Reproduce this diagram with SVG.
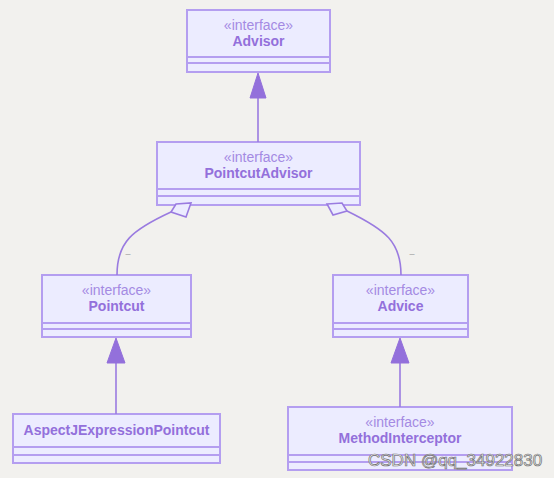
<svg xmlns="http://www.w3.org/2000/svg" width="554" height="478" viewBox="0 0 554 478">
<defs>
<style>
.box{fill:#ECECFF;stroke:#b49ef0;stroke-width:2}
.sep{stroke:#b49ef0;stroke-width:2;fill:none}
.st{font-family:"Liberation Sans",Arial,sans-serif;font-size:14px;fill:#a48ae3;text-anchor:middle}
.nm{font-family:"Liberation Sans",Arial,sans-serif;font-size:14px;font-weight:bold;fill:#9370DB;text-anchor:middle}
.edge{fill:none;stroke:#9a7be0;stroke-width:1.6}
.tri{fill:#9370DB;stroke:#9370DB;stroke-width:1}
.dia{fill:#ECECFF;stroke:#9a7be0;stroke-width:1.6}
.lbl{font-family:"Liberation Sans",sans-serif;font-size:9px;fill:#a0a0a0;text-anchor:middle}
</style>
</defs>
<rect width="554" height="478" fill="#f2f1ee"/>
<g id="Advisor">
<rect class="box" x="187" y="10" width="143" height="62"/>
<path class="sep" d="M187,57 H330 M187,63 H330"/>
<text class="st" x="258.5" y="30">«interface»</text>
<text class="nm" x="258.5" y="46">Advisor</text>
</g>
<g id="PointcutAdvisor">
<rect class="box" x="157" y="142" width="203" height="63"/>
<path class="sep" d="M157,189 H360 M157,196 H360"/>
<text class="st" x="258.5" y="162">«interface»</text>
<text class="nm" x="258.5" y="178">PointcutAdvisor</text>
</g>
<g id="Pointcut">
<rect class="box" x="42" y="275" width="149" height="62"/>
<path class="sep" d="M42,323 H191 M42,329 H191"/>
<text class="st" x="116.5" y="295">«interface»</text>
<text class="nm" x="116.5" y="311">Pointcut</text>
</g>
<g id="Advice">
<rect class="box" x="333" y="275" width="135" height="62"/>
<path class="sep" d="M333,323 H468 M333,329 H468"/>
<text class="st" x="400.5" y="295">«interface»</text>
<text class="nm" x="400.5" y="311">Advice</text>
</g>
<g id="AspectJExpressionPointcut">
<rect class="box" x="13" y="414" width="207" height="49"/>
<path class="sep" d="M13,447 H220 M13,455 H220"/>
<text class="nm" x="116.5" y="435">AspectJExpressionPointcut</text>
</g>
<g id="MethodInterceptor">
<rect class="box" x="288" y="407" width="224" height="63"/>
<path class="sep" d="M288,455 H512 M288,462 H512"/>
<text class="st" x="400" y="427">«interface»</text>
<text class="nm" x="400" y="443">MethodInterceptor</text>
</g>
<g id="connectors">
<path class="edge" d="M258,98 V142"/>
<polygon class="tri" points="258,73 250,98 266,98"/>
<path class="edge" d="M116,363 V414"/>
<polygon class="tri" points="116,338 107,363 125,363"/>
<path class="edge" d="M400,363 V407"/>
<polygon class="tri" points="400,338 391,363 409,363"/>
<path class="edge" d="M171,212 C132,230 117,242 117,275"/>
<polygon class="dia" points="176,204 191,203 186,217 171,212"/>
<path class="edge" d="M347,211 C386,230 401,242 401,275"/>
<polygon class="dia" points="327,204 342,203 347,211 333,215"/>
<text class="lbl" x="128" y="257">–</text>
<text class="lbl" x="412" y="257">–</text>
</g>
<text x="368" y="466" font-family="Liberation Sans, sans-serif" font-size="17" fill="#f2f2f2" stroke="#707070" stroke-width="0.7">CSDN @qq_34922830</text>
</svg>
